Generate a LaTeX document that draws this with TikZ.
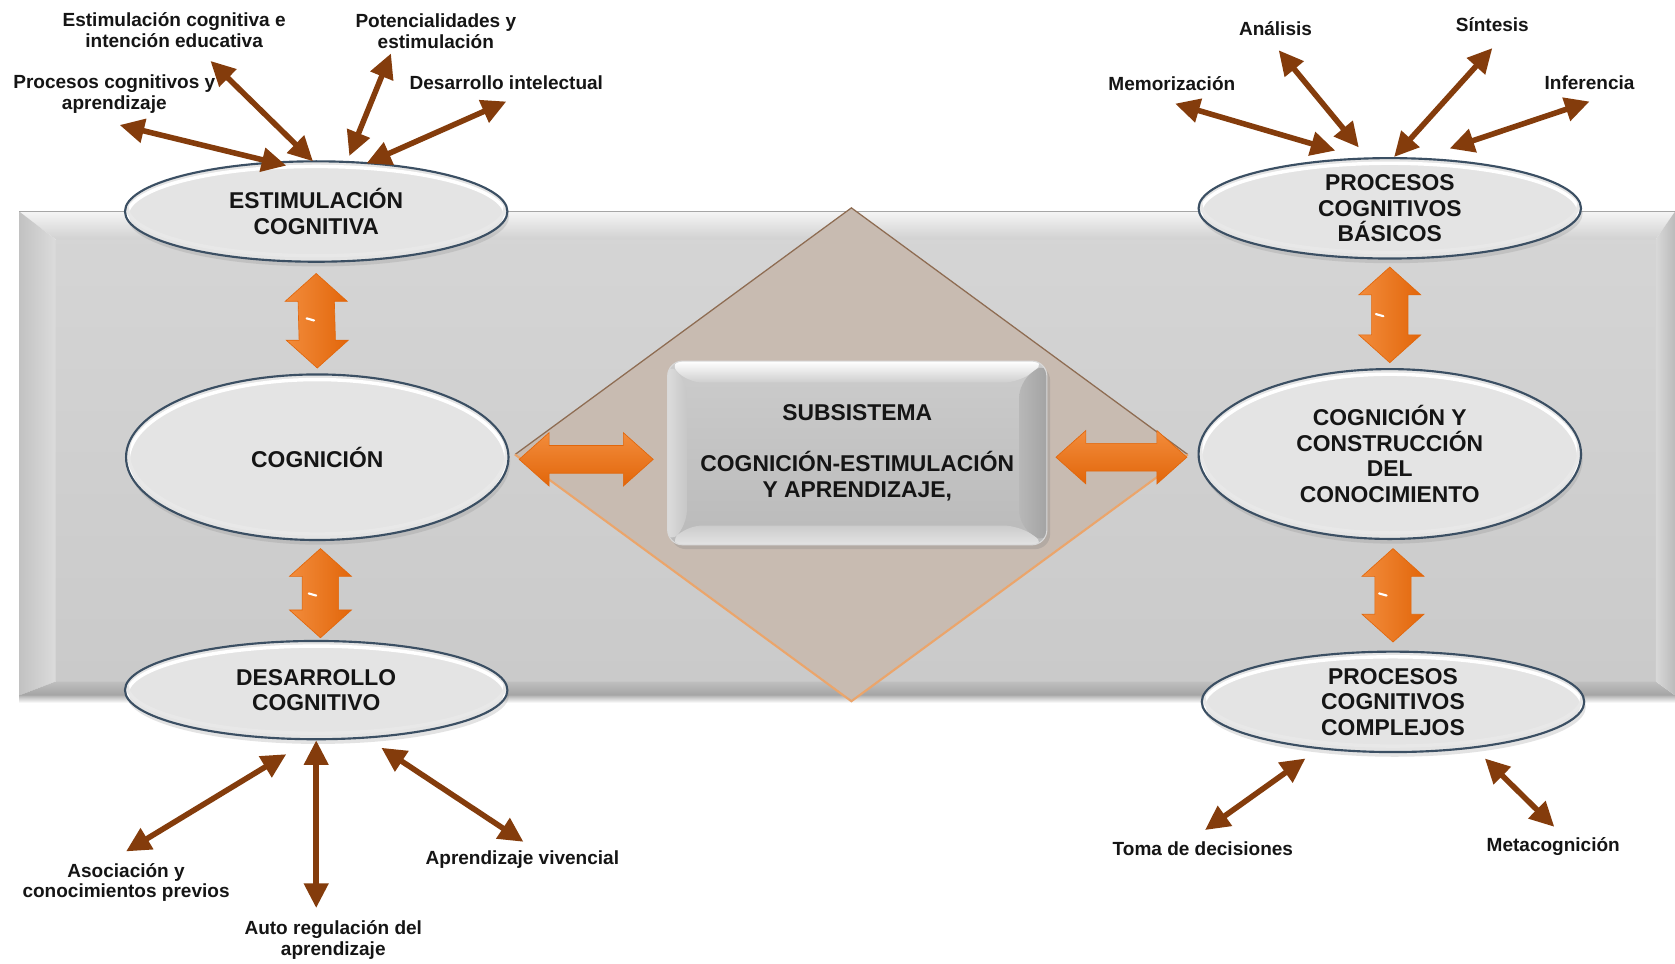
\documentclass[tikz,border=0pt]{standalone}
\usepackage{fontspec}
\setmainfont{Liberation Sans}
\usetikzlibrary{shapes.geometric,arrows.meta,calc,shadows}
\definecolor{brownarr}{HTML}{843C0C}
\definecolor{ellfill}{HTML}{E4E4E4}
\definecolor{ellborder}{HTML}{3B4F63}
\definecolor{bandface}{HTML}{CACACA}
\definecolor{orgdark}{HTML}{E2660A}
\definecolor{orgmid}{HTML}{F28C3C}
\definecolor{orglight}{HTML}{FBB882}
\definecolor{diafill}{HTML}{C8BBB1}
\definecolor{diaedge}{HTML}{8E6C52}
\definecolor{diaedge2}{HTML}{EBA56B}
\definecolor{txt}{HTML}{151515}
\tikzset{
  ell/.style={ellipse, draw=ellborder, line width=1pt, fill=ellfill,
    minimum width=179pt, minimum height=#1, inner sep=0pt, align=center,
    font=\bfseries\fontsize{10.7}{12}\selectfont, text=txt,
    drop shadow={opacity=0.22, shadow xshift=0.8pt, shadow yshift=-2.2pt},
    path picture={
      \draw[white, line width=1.6pt] ([yshift=-1.8pt]path picture bounding box.center) ellipse [x radius=88.5pt, y radius=#1/2-0.6pt];
      \draw[black!9, line width=1.6pt] ([yshift=2.2pt]path picture bounding box.center) ellipse [x radius=88.5pt, y radius=#1/2-0.6pt];
    }},
  lbl/.style={align=center, font=\bfseries\fontsize{8.9}{9.6}\selectfont, text=txt, inner sep=0pt},
  barrow/.style={draw=brownarr, line width=2.6pt,
    arrows={Triangle[length=11.5pt,width=11pt]-Triangle[length=11.5pt,width=11pt]}},
  oarrowv/.style={left color=orgmid, middle color=orglight, right color=orgdark, draw=orgdark, line width=0.3pt},
  oarrowh/.style={top color=orgmid, middle color=orglight, bottom color=orgdark, draw=orgdark, line width=0.3pt},
  centerbox/.style={rectangle, rounded corners=7pt, minimum width=177.5pt, minimum height=86pt,
    top color=black!20, bottom color=black!27, draw=white!85!black, line width=0.5pt,
    drop shadow={opacity=0.28, shadow xshift=1.5pt, shadow yshift=-2pt},
    align=center, font=\bfseries\fontsize{10.7}{12}\selectfont, text=txt,
    path picture={
      \coordinate (pnw) at (path picture bounding box.north west);
      \coordinate (pne) at (path picture bounding box.north east);
      \coordinate (psw) at (path picture bounding box.south west);
      \coordinate (pse) at (path picture bounding box.south east);
      \shade[top color=white, bottom color=black!19] (pnw) -- (pne) -- ([xshift=-13pt,yshift=-10pt]pne) -- ([xshift=9pt,yshift=-10pt]pnw) -- cycle;
      \shade[left color=black!14, right color=black!22] (pnw) -- ([xshift=9pt,yshift=-10pt]pnw) -- ([xshift=9pt,yshift=9pt]psw) -- (psw) -- cycle;
      \shade[left color=black!28, right color=black!36] (pne) -- (pse) -- ([xshift=-13pt,yshift=9pt]pse) -- ([xshift=-13pt,yshift=-10pt]pne) -- cycle;
      \shade[top color=black!20, bottom color=black!11] (psw) -- ([xshift=9pt,yshift=9pt]psw) -- ([xshift=-13pt,yshift=9pt]pse) -- (pse) -- cycle;
    }},
  tick/.style={white, line width=1pt, line cap=round}
}
\newcommand\vdarrow[2]{%
  \path[oarrowv] (#1) -- ++(29,26) -- ++(-12,0) -- ($(#2)+(17,-26)$) -- ++(12,0) -- (#2)
    -- ++(-29,-26) -- ++(12,0) -- ($(#1)+(-17,26)$) -- ++(-12,0) -- cycle;}
\newcommand\hdarrow[2]{%
  \path[oarrowh] (#1) -- ++(28,-25) -- ++(0,12) -- ($(#2)+(-28,-13)$) -- ++(0,-12) -- (#2)
    -- ++(-28,25) -- ++(0,-12) -- ($(#1)+(28,13)$) -- ++(0,12) -- cycle;}
\begin{document}
\begin{tikzpicture}[x=0.5pt,y=-0.5pt]
\useasboundingbox (0,0) rectangle (1568,902);
\fill[white] (0,0) rectangle (1568,902);
% band
\shade[top color=black!30, bottom color=white] (18,651) rectangle (1568,658);
\shade[top color=bandface!80!white, bottom color=bandface] (52,224) rectangle (1550,638);
\shade[top color=white!96!black, bottom color=black!18] (18,198) -- (1568,198) -- (1550,224) -- (52,224) -- cycle;
\shade[left color=black!24, right color=black!14] (18,198) -- (52,224) -- (52,638) -- (18,651) -- cycle;
\shade[top color=black!25, bottom color=black!36] (18,651) -- (52,638) -- (1550,638) -- (1568,651) -- cycle;
\shade[left color=black!15, right color=black!27] (1568,198) -- (1550,224) -- (1550,638) -- (1568,651) -- cycle;
\draw[black!35, line width=0.4pt] (18,198) -- (1568,198);
% diamond
\node[diamond, fill=diafill, minimum width=314.5pt, minimum height=230.5pt, inner sep=0pt] (dia) at (797,425.5) {};
\draw[diaedge, line width=0.6pt] (dia.west) -- (dia.north) -- (dia.east);
\draw[diaedge2, line width=1pt] (dia.west) -- (dia.south) -- (dia.east);
% ellipses
\node[ell=47pt] (e1) at (296,198) {ESTIMULACIÓN\\COGNITIVA};
\node[ell=77.5pt] (e2) at (297,428) {COGNICIÓN};
\node[ell=46pt] (e3) at (296,646) {DESARROLLO\\COGNITIVO};
\node[ell=47pt] (e4) at (1301,195) {PROCESOS\\COGNITIVOS\\BÁSICOS};
\node[ell=79.5pt] (e5) at (1301,425) {COGNICIÓN Y\\CONSTRUCCIÓN\\DEL\\CONOCIMIENTO};
\node[ell=47pt] (e6) at (1304,657) {PROCESOS\\COGNITIVOS\\COMPLEJOS};
% center box
\node[centerbox] (box) at (802.5,424) {SUBSISTEMA\\[12pt]COGNICIÓN-ESTIMULACIÓN\\Y APRENDIZAJE,};
% orange block arrows
\coordinate (v1t) at ($(e1.south)+(0,10)$);
\coordinate (v1b) at ($(e2.north)+(0,-5)$);
\coordinate (v2t) at ($(e2.south)+(3,7)$);
\coordinate (v2b) at ($(e3.north)+(4,-2)$);
\coordinate (v3t) at ($(e4.south)+(0,7)$);
\coordinate (v3b) at ($(e5.north)+(0,-5)$);
\coordinate (v4t) at ($(e5.south)+(3,8)$);
\coordinate (v4b) at ($(e6.north)+(0,-8)$);
\coordinate (h1l) at ($(e2.east)+(9,2)$);
\coordinate (h1r) at ($(box.west)+(-13,6)$);
\coordinate (h2l) at ($(box.east)+(8,4)$);
\coordinate (h2r) at ($(e5.west)+(-10,3)$);
\vdarrow{v1t}{v1b}
\vdarrow{v2t}{v2b}
\vdarrow{v3t}{v3b}
\vdarrow{v4t}{v4b}
\hdarrow{h1l}{h1r}
\hdarrow{h2l}{h2r}
\draw[tick] ($(v1t)+(-9,42)$) -- ++(7,2);
\draw[tick] ($(v2t)+(-11,42)$) -- ++(7,2);
\draw[tick] ($(v3t)+(-13,44)$) -- ++(7,2);
\draw[tick] ($(v4t)+(-13,42)$) -- ++(7,2);
% labels top-left
\node[lbl] (l1) at (163,28) {Estimulación cognitiva e\\intención educativa};
\node[lbl] (l2) at (408,29) {Potencialidades y\\estimulación};
\node[lbl] (l3) at (107,88) {Procesos cognitivos y\\aprendizaje};
\node[lbl] (l4) at (474,77) {Desarrollo intelectual};
% labels top-right
\node[lbl] (l5) at (1097,78) {Memorización};
\node[lbl] (l6) at (1194,27) {Análisis};
\node[lbl] (l7) at (1397,23) {Síntesis};
\node[lbl] (l8) at (1488,77) {Inferencia};
% labels bottom-left
\node[lbl] (l9) at (118,826) {Asociación y\\conocimientos previos};
\node[lbl] (l10) at (312,880) {Auto regulación del\\aprendizaje};
\node[lbl] (l11) at (489,805) {Aprendizaje vivencial};
% labels bottom-right
\node[lbl] (l12) at (1126,794) {Toma de decisiones};
\node[lbl] (l13) at (1454,792) {Metacognición};
% brown arrow ends
\coordinate (b1o) at (197,57);   \coordinate (b1i) at (293,151);
\coordinate (b2o) at (366,50);   \coordinate (b2i) at (327,146);
\coordinate (b3o) at (112,117);  \coordinate (b3i) at (268,155);
\coordinate (b4o) at (474,95);   \coordinate (b4i) at (343,153);
\coordinate (b5o) at (1100,97);  \coordinate (b5i) at (1250,141);
\coordinate (b6o) at (1197,47);  \coordinate (b6i) at (1272,138);
\coordinate (b7o) at (1397,45);  \coordinate (b7i) at (1305,147);
\coordinate (b8o) at (1488,95);  \coordinate (b8i) at (1357,139);
\coordinate (b9o) at (118,797);  \coordinate (b9i) at (268,706);
\coordinate (b10o) at (296,850); \coordinate (b10i) at (296,693);
\coordinate (b11o) at (490,788); \coordinate (b11i) at (357,700);
\coordinate (b12o) at (1128,777); \coordinate (b12i) at (1222,710);
\coordinate (b13o) at (1455,774); \coordinate (b13i) at (1390,710);
\foreach \i in {1,...,13}{\draw[barrow] (b\i o) -- (b\i i);}
\end{tikzpicture}
\end{document}
